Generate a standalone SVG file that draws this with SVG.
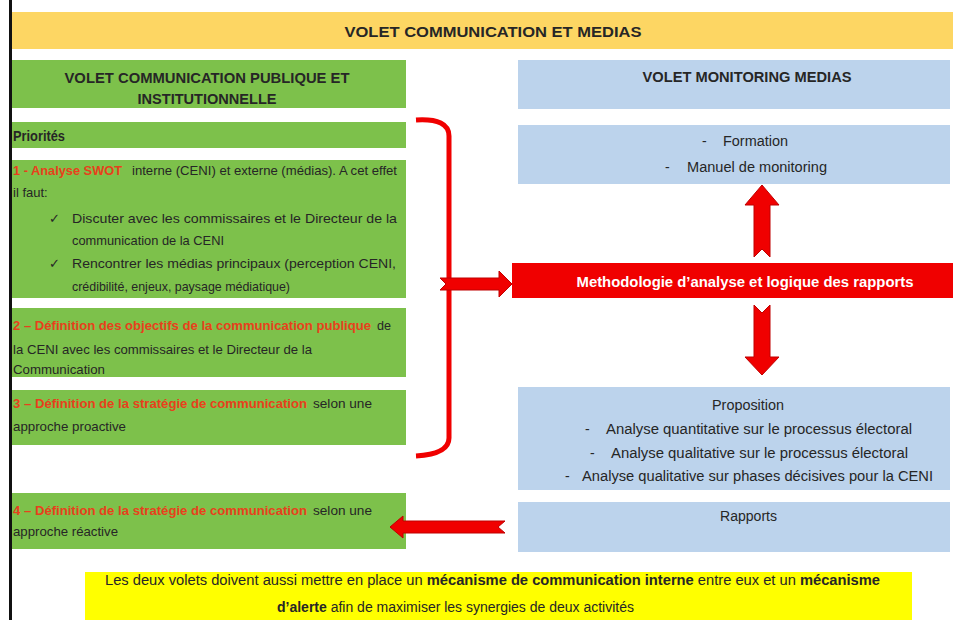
<svg xmlns="http://www.w3.org/2000/svg" width="953" height="620" viewBox="0 0 953 620">
<style>
text{font-family:"Liberation Sans",Arial,sans-serif;fill:#262626;font-size:14px}
.s{font-size:13px}
.b{font-weight:bold}
.r{fill:#E8401C;font-weight:bold;font-size:13px}
.c{text-anchor:middle}
.g{fill:#7DC14B}
.bl{fill:#BCD3EC}
.chk{font-family:"DejaVu Sans",sans-serif;font-size:13px}
.arr{fill:#F00000;stroke:#C00000;stroke-width:1}
</style>
<rect width="953" height="620" fill="#fff"/>
<rect x="9" y="0" width="3" height="620" fill="#111"/>
<g id="title">
<rect x="12" y="12" width="941" height="37" fill="#FDD663"/>
<text class="b c" x="493" y="37" font-size="18" textLength="297" lengthAdjust="spacingAndGlyphs">VOLET COMMUNICATION ET MEDIAS</text>
</g>
<g id="left-header">
<rect class="g" x="12" y="60" width="394" height="48"/>
<text class="b c" x="207" y="83" font-size="17" textLength="285" lengthAdjust="spacingAndGlyphs">VOLET COMMUNICATION  PUBLIQUE ET</text>
<text class="b c" x="207" y="104" font-size="17" textLength="139" lengthAdjust="spacingAndGlyphs">INSTITUTIONNELLE</text>
</g>
<g id="priorites">
<rect class="g" x="12" y="122" width="394" height="26"/>
<text class="b" x="13" y="141" textLength="52" lengthAdjust="spacingAndGlyphs">Priorités</text>
</g>
<g id="box1">
<rect class="g" x="12" y="160" width="394" height="138"/>
<text class="r" x="13" y="175" textLength="109" lengthAdjust="spacingAndGlyphs">1 - Analyse SWOT</text>
<text class="s" x="132" y="175" textLength="265" lengthAdjust="spacingAndGlyphs">interne (CENI)  et externe (médias). A cet effet</text>
<text class="s" x="13" y="197">il faut:</text>
<text class="chk" x="49" y="223">✓</text>
<text class="s" x="72" y="223" textLength="325" lengthAdjust="spacingAndGlyphs">Discuter avec les commissaires et le Directeur de la</text>
<text class="s" x="72" y="245" textLength="152" lengthAdjust="spacingAndGlyphs">communication de la CENI</text>
<text class="chk" x="49" y="268">✓</text>
<text class="s" x="72" y="268" textLength="324" lengthAdjust="spacingAndGlyphs">Rencontrer les médias principaux (perception CENI,</text>
<text class="s" x="72" y="291" textLength="218" lengthAdjust="spacingAndGlyphs">crédibilité, enjeux, paysage médiatique)</text>
</g>
<g id="box2">
<rect class="g" x="12" y="308" width="394" height="69"/>
<text class="r" x="13" y="330" textLength="358" lengthAdjust="spacingAndGlyphs">2 – Définition des objectifs de la communication publique</text>
<text class="s" x="377" y="330" textLength="14" lengthAdjust="spacingAndGlyphs">de</text>
<text class="s" x="13" y="354" textLength="299" lengthAdjust="spacingAndGlyphs">la CENI  avec les commissaires et le Directeur de la</text>
<text class="s" x="13" y="374" textLength="92" lengthAdjust="spacingAndGlyphs">Communication</text>
</g>
<g id="box3">
<rect class="g" x="12" y="390" width="394" height="55"/>
<text class="r" x="13" y="408" textLength="294" lengthAdjust="spacingAndGlyphs">3 – Définition de la stratégie  de communication</text>
<text class="s" x="313" y="408" textLength="59" lengthAdjust="spacingAndGlyphs">selon une</text>
<text class="s" x="13" y="431" textLength="113" lengthAdjust="spacingAndGlyphs">approche proactive</text>
</g>
<g id="box4">
<rect class="g" x="12" y="493" width="394" height="56"/>
<text class="r" x="13" y="515" textLength="294" lengthAdjust="spacingAndGlyphs">4 – Définition de la stratégie  de communication</text>
<text class="s" x="313" y="515" textLength="59" lengthAdjust="spacingAndGlyphs">selon une</text>
<text class="s" x="13" y="536" textLength="105" lengthAdjust="spacingAndGlyphs">approche réactive</text>
</g>
<g id="right-header">
<rect class="bl" x="518" y="60" width="432" height="49"/>
<text class="b c" x="747" y="82" font-size="17" textLength="209" lengthAdjust="spacingAndGlyphs">VOLET MONITORING MEDIAS</text>
</g>
<g id="formation">
<rect class="bl" x="518" y="125" width="432" height="59"/>
<text x="702" y="146">-</text>
<text x="723" y="146" textLength="65" lengthAdjust="spacingAndGlyphs">Formation</text>
<text x="665" y="172">-</text>
<text x="687" y="172" textLength="140" lengthAdjust="spacingAndGlyphs">Manuel de monitoring</text>
</g>
<g id="methodologie">
<rect x="512" y="263" width="441" height="35" fill="#F00000"/>
<text class="b c" x="745" y="287" font-size="15" textLength="337" lengthAdjust="spacingAndGlyphs" style="fill:#fff">Methodologie d’analyse et logique des rapports</text>
</g>
<g id="proposition">
<rect class="bl" x="518" y="387" width="432" height="103"/>
<text x="712" y="410" textLength="72" lengthAdjust="spacingAndGlyphs">Proposition</text>
<text x="585" y="434">-</text>
<text x="606" y="434" textLength="306" lengthAdjust="spacingAndGlyphs">Analyse quantitative  sur le processus électoral</text>
<text x="590" y="458">-</text>
<text x="611" y="458" textLength="297" lengthAdjust="spacingAndGlyphs">Analyse qualitative  sur le processus électoral</text>
<text x="565" y="481">-</text>
<text x="582" y="481" textLength="351" lengthAdjust="spacingAndGlyphs">Analyse qualitative  sur phases décisives pour la CENI</text>
</g>
<g id="rapports">
<rect class="bl" x="518" y="502" width="432" height="50"/>
<text x="720" y="521" textLength="57" lengthAdjust="spacingAndGlyphs">Rapports</text>
</g>
<g id="note">
<rect x="85" y="572" width="827" height="48" fill="#FFFF00"/>
<text x="105" y="585" textLength="775" lengthAdjust="spacingAndGlyphs">Les deux volets doivent aussi mettre en place un <tspan class="b">mécanisme de communication interne</tspan> entre eux et un <tspan class="b">mécanisme</tspan></text>
<text x="277" y="612" textLength="357" lengthAdjust="spacingAndGlyphs"><tspan class="b">d’alerte</tspan> afin de maximiser les synergies de deux activités</text>
</g>
<g id="connectors">
<path d="M416,120 Q449,118 449,136 L449,438 Q449,454 416,456" fill="none" stroke="#F00000" stroke-width="5"/>
<polygon class="arr" points="440,278 499,278 499,271 512,284 499,297 499,290 440,290 446,284"/>
<polygon class="arr" points="762,185 779,205 770,205 770,257 762,249 754,257 754,205 745,205"/>
<polygon class="arr" points="754,305 762,313 770,305 770,357 779,357 762,375 745,357 754,357"/>
<polygon class="arr" points="390,527 403,516 403,521 505,521 498,527 505,533 403,533 403,538"/>
</g>
</svg>
